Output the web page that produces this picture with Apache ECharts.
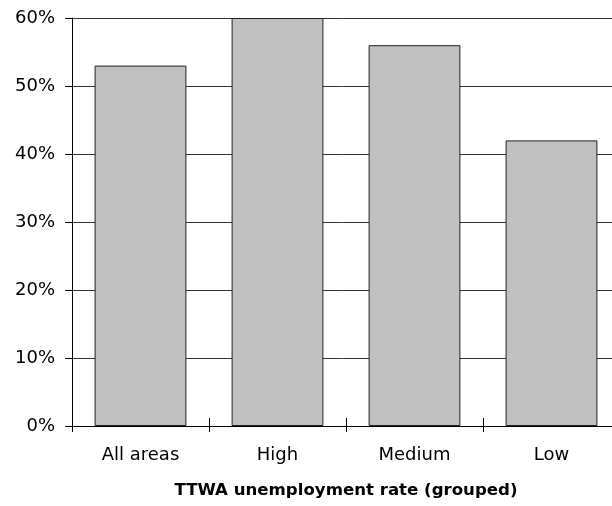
<!DOCTYPE html>
<html>
<head>
<meta charset="utf-8">
<script src="https://cdn.jsdelivr.net/npm/echarts@6/dist/echarts.min.js"></script>
<style>
  html, body { margin: 0; padding: 0; background: #fff; }
  #chart { width: 612px; height: 506px; }
</style>
</head>
<body>
<div id="chart"></div>
<script>
// categories and shares
let categories = ['All areas', 'High', 'Medium', 'Low'];
let shares = [53, 60, 56, 42];
let yTicks = [0, 10, 20, 30, 40, 50, 60];

let chart = echarts.init(document.getElementById('chart'));

let font = 'DejaVu Sans';

let option = {
    animation: false,
    backgroundColor: '#fff',
    grid: {
        left: 72,
        right: -8, // plot runs a little past the right edge
        top: 18,
        bottom: 80,
        outerBoundsMode: 'none'
    },
    xAxis: [{
        type: 'category',
        data: categories,
        name: 'TTWA unemployment rate (grouped)',
        nameLocation: 'middle',
        nameGap: 56,
        nameTextStyle: {
            fontFamily: font,
            fontWeight: 'bold',
            fontSize: 16.6,
            color: '#000'
        },
        axisLine: { lineStyle: { color: '#000', width: 1 } },
        axisTick: { show: true, length: 6, lineStyle: { color: '#000' } },
        axisLabel: {
            margin: 20,
            fontFamily: font,
            fontSize: 18,
            color: '#000'
        }
    }, {
        // second axis only to draw the inner half of the crossing ticks
        type: 'category',
        data: categories,
        position: 'bottom',
        axisLine: { show: false },
        axisTick: { show: true, inside: true, length: 8, lineStyle: { color: '#000' } },
        axisLabel: { show: false }
    }],
    yAxis: {
        type: 'value',
        min: yTicks[0],
        max: yTicks[yTicks.length - 1],
        interval: 10,
        axisLine: { show: true, lineStyle: { color: '#000', width: 1 } },
        axisTick: { show: true, length: 7, lineStyle: { color: '#000' } },
        splitLine: { show: true, lineStyle: { color: '#333', width: 1 } },
        axisLabel: {
            margin: 17,
            fontFamily: font,
            fontSize: 18,
            color: '#000',
            formatter: '{value}%'
        }
    },
    series: [{
        type: 'bar',
        data: shares,
        xAxisIndex: 0,
        barCategoryGap: '33%',
        itemStyle: {
            color: '#c0c0c0',
            borderColor: '#222',
            borderWidth: 1
        }
    }]
};
chart.setOption(option);
</script>
</body>
</html>
